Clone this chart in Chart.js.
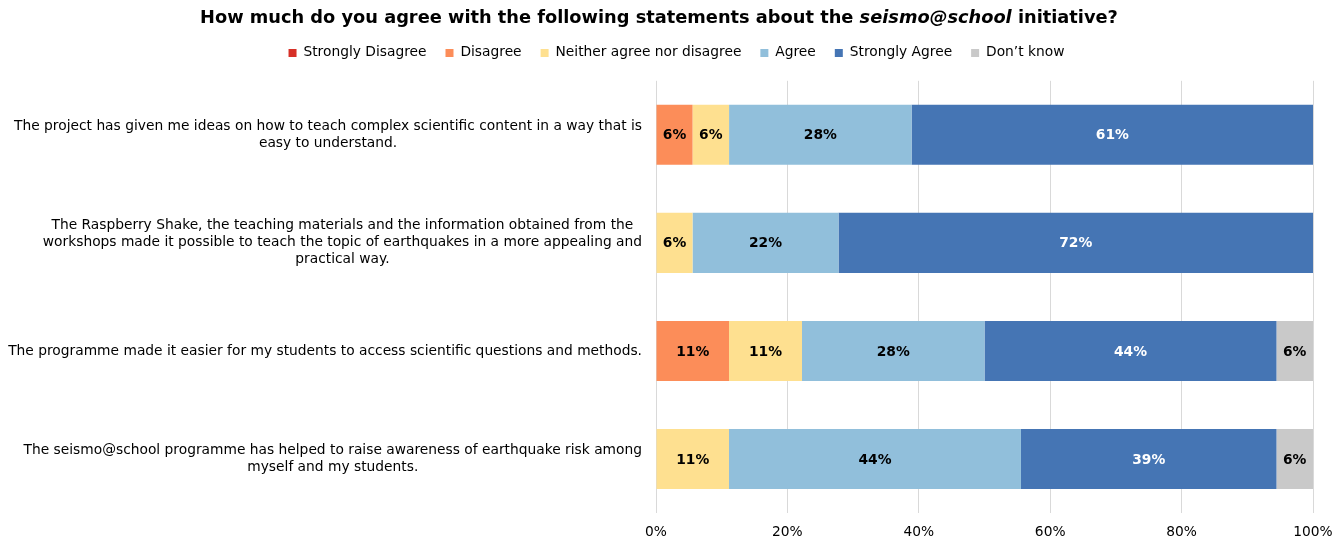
<!DOCTYPE html>
<html>
<head>
<meta charset="utf-8">
<script src="https://cdn.jsdelivr.net/npm/chart.js@4"></script>
<style>
  body { margin: 0; background: #fff; }
  #wrap { position: relative; width: 1344px; height: 542px; }
  #title {
    position: absolute; left: 0; top: 6px; width: 1318px; text-align: center;
    font: bold 17.8px "DejaVu Sans", Verdana, sans-serif; color: #000;
  }
  canvas { display: block; }
</style>
</head>
<body>
<div id="wrap">
  <div id="title">How much do you agree with the following statements about the <i>seismo@school</i> initiative?</div>
  <canvas id="chart" width="1344" height="542"></canvas>
</div>
<script>
// statements, wrapped the same way as the picture
const statements = [
    ['The project has given me ideas on how to teach complex scientific content in a way that is', 'easy to understand.'],
    ['The Raspberry Shake, the teaching materials and the information obtained from the', 'workshops made it possible to teach the topic of earthquakes in a more appealing and', 'practical way.'],
    ['The programme made it easier for my students to access scientific questions and methods.'],
    ['The seismo@school programme has helped to raise awareness of earthquake risk among', 'myself and my students.']
];

// share of answers in %, one value per statement
const stronglyDisagree = [0, 0, 0, 0];
const disagree = [5.56, 0, 11.11, 0];
const neither = [5.56, 5.56, 11.11, 11.11];
const agree = [27.78, 22.22, 27.78, 44.44];
const stronglyAgree = [61.11, 72.22, 44.44, 38.89];
const dontKnow = [0, 0, 5.56, 5.56];

const xTicks = [0, 20, 40, 60, 80, 100];

const FONT = '"DejaVu Sans", Verdana, sans-serif';
const FS = 13.8;

// bar value labels
const valueLabels = {
    id: 'valueLabels',
    afterDatasetsDraw(chart) {
        const ctx = chart.ctx;
        ctx.save();
        ctx.font = 'bold ' + FS + 'px ' + FONT;
        ctx.textAlign = 'center';
        ctx.textBaseline = 'middle';
        chart.data.datasets.forEach((ds, di) => {
            const meta = chart.getDatasetMeta(di);
            meta.data.forEach((bar, i) => {
                const v = ds.data[i];
                if (!v) return;
                const p = bar.getCenterPoint();
                ctx.fillStyle = ds.label === 'Strongly Agree' ? '#fff' : '#000';
                ctx.fillText(Math.round(v) + '%', p.x, p.y + 1);
            });
        });
        ctx.restore();
    }
};

// category labels: right edge fixed, lines centred on each other
const categoryLabels = {
    id: 'categoryLabels',
    afterDraw(chart) {
        const ctx = chart.ctx;
        const y = chart.scales.y;
        const right = chart.chartArea.left - 14;
        const lh = 17;
        ctx.save();
        ctx.font = FS + 'px ' + FONT;
        ctx.fillStyle = '#000';
        ctx.textAlign = 'center';
        ctx.textBaseline = 'middle';
        statements.forEach((lines, i) => {
            const cy = y.getPixelForTick(i);
            const widest = Math.max(...lines.map(l => ctx.measureText(l).width));
            const cx = right - widest / 2;
            const top = cy - (lines.length - 1) * lh / 2;
            lines.forEach((l, k) => ctx.fillText(l, cx, top + k * lh));
        });
        ctx.restore();
    }
};

new Chart(document.getElementById('chart'), {
    type: 'bar',
    data: {
        labels: statements,
        datasets: [
            { label: 'Strongly Disagree', data: stronglyDisagree, backgroundColor: '#d73027' },
            { label: 'Disagree', data: disagree, backgroundColor: '#fc8d59' },
            { label: 'Neither agree nor disagree', data: neither, backgroundColor: '#fee090' },
            { label: 'Agree', data: agree, backgroundColor: '#91bfdb' },
            { label: 'Strongly Agree', data: stronglyAgree, backgroundColor: '#4575b4' },
            { label: 'Don\u2019t know', data: dontKnow, backgroundColor: '#c9c9c9' }
        ]
    },
    options: {
        indexAxis: 'y',
        responsive: false,
        animation: false,
        layout: { padding: { top: 27, right: 31, bottom: 0, left: 40 } },
        datasets: { bar: { categoryPercentage: 1, barPercentage: 0.556 } },
        plugins: {
            legend: {
                position: 'top',
                labels: {
                    boxWidth: 8, boxHeight: 8, padding: 19,
                    color: '#000',
                    font: { family: FONT, size: FS }
                }
            },
            // empty subtitle only keeps a gap under the legend
            subtitle: {
                display: true, text: '', weight: 500,
                font: { size: 1, lineHeight: 1 },
                padding: { top: 0, bottom: 10 }
            },
            tooltip: { enabled: false }
        },
        scales: {
            x: {
                stacked: true,
                min: 0, max: 100,
                afterBuildTicks: s => { s.ticks = xTicks.map(v => ({ value: v })); },
                afterFit: s => { s.height = 29; },
                ticks: {
                    callback: v => v + '%',
                    color: '#000',
                    padding: 11,
                    font: { family: FONT, size: FS }
                },
                grid: { color: '#d9d9d9', drawTicks: false },
                border: { display: false }
            },
            y: {
                stacked: true,
                ticks: { display: false },
                grid: { display: false },
                border: { display: false },
                afterFit: s => { s.width = 616; }
            }
        }
    },
    plugins: [valueLabels, categoryLabels]
});
</script>
</body>
</html>
